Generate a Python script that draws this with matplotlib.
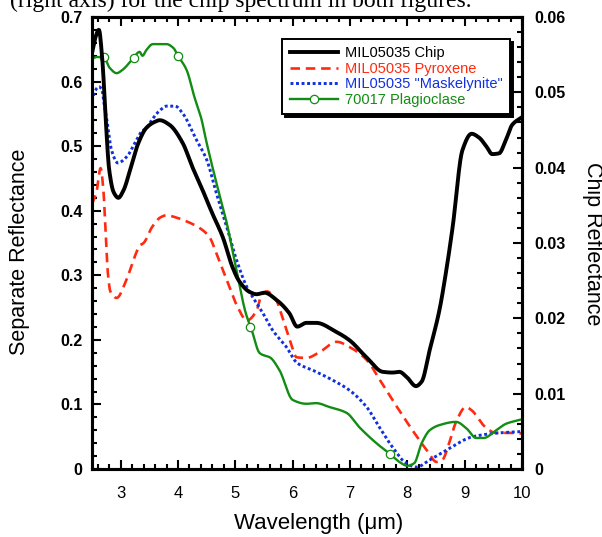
import numpy as np
import matplotlib
matplotlib.use("Agg")
import matplotlib.pyplot as plt
from matplotlib.lines import Line2D
from matplotlib.ticker import MultipleLocator, FixedLocator

plt.rcParams['font.family'] = ['Liberation Sans', 'DejaVu Sans']

# ---------------- data ----------------
chip_wl = [2.50, 2.56, 2.62, 2.68, 2.74, 2.80, 2.88, 2.96, 3.05, 3.18, 3.30, 3.45, 3.60, 3.68,
           3.85, 4.08, 4.25, 4.43, 4.60, 4.78, 4.95, 5.07, 5.25, 5.37, 5.51, 5.71, 5.94, 6.08,
           6.24, 6.41, 6.76, 6.99, 7.29, 7.57, 7.74, 7.86, 7.99, 8.15, 8.25, 8.39, 8.56, 8.68,
           8.79, 8.96, 9.12, 9.25, 9.38, 9.48, 9.60, 9.72, 9.83, 10.0]
chip_refl = [0.0552, 0.0573, 0.0583, 0.0543, 0.0463, 0.0397, 0.0367, 0.0360, 0.0370, 0.0401,
             0.0431, 0.0453, 0.0461, 0.0463, 0.0457, 0.0433, 0.0401, 0.0370, 0.0339, 0.0308,
             0.0268, 0.0249, 0.0235, 0.0232, 0.0234, 0.0225, 0.0207, 0.0189, 0.0194, 0.0194,
             0.0182, 0.0171, 0.0148, 0.0129, 0.0128, 0.0129, 0.0122, 0.0110, 0.0116, 0.0158,
             0.0211, 0.0264, 0.0321, 0.0423, 0.0445, 0.0440, 0.0428, 0.0418, 0.0419, 0.0437,
             0.0457, 0.0467]

pyx_wl = [2.50, 2.58, 2.65, 2.70, 2.74, 2.78, 2.82, 2.93, 3.10, 3.25, 3.33, 3.40, 3.55, 3.70,
          3.80, 3.95, 4.08, 4.38, 4.55, 4.67, 4.85, 5.04, 5.20, 5.37, 5.45, 5.55, 5.71, 5.82,
          5.95, 6.07, 6.24, 6.47, 6.77, 6.99, 7.29, 7.52, 7.82, 8.09, 8.34, 8.51, 8.61, 8.73,
          8.85, 9.02, 9.12, 9.36, 9.54, 9.75, 10.0]
pyx_refl = [0.410, 0.430, 0.466, 0.430, 0.360, 0.300, 0.275, 0.265, 0.293, 0.330, 0.346, 0.350,
            0.375, 0.390, 0.393, 0.390, 0.386, 0.373, 0.359, 0.334, 0.293, 0.251, 0.230, 0.245,
            0.268, 0.275, 0.262, 0.235, 0.200, 0.173, 0.172, 0.181, 0.197, 0.189, 0.169, 0.138,
            0.096, 0.060, 0.029, 0.011, 0.014, 0.040, 0.073, 0.096, 0.091, 0.065, 0.056, 0.056,
            0.055]

mask_wl = [2.50, 2.55, 2.62, 2.67, 2.72, 2.76, 2.84, 2.95, 3.10, 3.28, 3.38, 3.45, 3.51, 3.68,
           3.80, 3.95, 4.08, 4.32, 4.50, 4.67, 4.85, 5.02, 5.20, 5.37, 5.47, 5.65, 5.89, 6.08,
           6.35, 6.69, 6.99, 7.29, 7.51, 7.74, 7.98, 8.16, 8.39, 8.68, 9.14, 9.61, 10.0]
mask_refl = [0.570, 0.585, 0.592, 0.588, 0.560, 0.540, 0.494, 0.474, 0.483, 0.510, 0.524, 0.527,
             0.536, 0.555, 0.562, 0.562, 0.551, 0.510, 0.479, 0.427, 0.375, 0.324, 0.282, 0.257,
             0.243, 0.215, 0.189, 0.164, 0.153, 0.138, 0.122, 0.096, 0.065, 0.034, 0.009, 0.003,
             0.014, 0.029, 0.050, 0.056, 0.058]

plag_wl = [2.50, 2.58, 2.70, 2.81, 2.93, 3.03, 3.21, 3.33, 3.38, 3.45, 3.56, 3.80, 3.92, 4.00,
           4.15, 4.29, 4.40, 4.50, 4.67, 4.85, 5.02, 5.18, 5.29, 5.42, 5.47, 5.60, 5.77, 6.00,
           6.24, 6.41, 6.64, 6.94, 7.16, 7.46, 7.70, 7.86, 8.00, 8.12, 8.25, 8.39, 8.56, 8.85,
           9.03, 9.20, 9.33, 9.55, 9.72, 10.0]
plag_refl = [0.635, 0.638, 0.638, 0.621, 0.613, 0.618, 0.635, 0.646, 0.640, 0.649, 0.658, 0.658,
             0.652, 0.640, 0.618, 0.575, 0.545, 0.505, 0.443, 0.381, 0.308, 0.242, 0.214, 0.180,
             0.177, 0.173, 0.153, 0.107, 0.101, 0.102, 0.096, 0.087, 0.065, 0.040, 0.023, 0.011,
             0.005, 0.009, 0.040, 0.060, 0.068, 0.073, 0.063, 0.048, 0.048, 0.060, 0.070, 0.077]
# open-circle markers every 600 cm-1 (3700, 3100, 2500, 1900, 1300 cm-1)
plag_marker_wavenumber = [3700, 3100, 2500, 1900, 1300]

labels = ['MIL05035 Chip', 'MIL05035 Pyroxene', 'MIL05035 "Maskelynite"', '70017 Plagioclase']
colors = ['#000000', '#ff2a10', '#1030e0', '#128c12']

left_ticks = [0, 0.1, 0.2, 0.3, 0.4, 0.5, 0.6, 0.7]
left_ticklabels = ['0', '0.1', '0.2', '0.3', '0.4', '0.5', '0.6', '0.7']
right_ticks = [0, 0.01, 0.02, 0.03, 0.04, 0.05, 0.06]
right_ticklabels = ['0', '0.01', '0.02', '0.03', '0.04', '0.05', '0.06']
x_ticks = [3, 4, 5, 6, 7, 8, 9, 10]


def pchip(x, y, xs):
    """Shape-preserving piecewise cubic Hermite interpolation (smooth curve through the points)."""
    x = np.asarray(x, float)
    y = np.asarray(y, float)
    xs = np.asarray(xs, float)
    h = np.diff(x)
    d = np.diff(y) / h
    n = len(x)
    m = np.zeros(n)
    m[0], m[-1] = d[0], d[-1]
    for k in range(1, n - 1):
        if d[k - 1] * d[k] > 0:
            w1 = 2 * h[k] + h[k - 1]
            w2 = h[k] + 2 * h[k - 1]
            m[k] = (w1 + w2) / (w1 / d[k - 1] + w2 / d[k])
    idx = np.clip(np.searchsorted(x, xs) - 1, 0, n - 2)
    t = (xs - x[idx]) / h[idx]
    h00 = 2 * t**3 - 3 * t**2 + 1
    h10 = t**3 - 2 * t**2 + t
    h01 = -2 * t**3 + 3 * t**2
    h11 = t**3 - t**2
    return h00 * y[idx] + h10 * h[idx] * m[idx] + h01 * y[idx + 1] + h11 * h[idx] * m[idx + 1]


def smooth(x, y):
    xs = np.linspace(x[0], x[-1], 900)
    return xs, pchip(x, y, xs)


# ---------------- figure ----------------
W, H = 602, 537
fig = plt.figure(figsize=(W / 100, H / 100), dpi=100)
ax = fig.add_axes([92 / W, 1 - 469 / H, (522 - 92) / W, (469 - 17) / H])
ax2 = ax.twinx()

ax.plot(*smooth(pyx_wl, pyx_refl), color=colors[1], lw=1.9, ls=(0, (3.6, 2.2)), zorder=3)
ax.plot(*smooth(mask_wl, mask_refl), color=colors[2], lw=2.1, ls=(0, (1.0, 0.9)), zorder=3)
ax.plot(*smooth(plag_wl, plag_refl), color=colors[3], lw=1.7, zorder=4)
mk_wl = 10000.0 / np.array(plag_marker_wavenumber)
mk_y = pchip(plag_wl, plag_refl, mk_wl)
ax.plot(mk_wl, mk_y, ls='none', marker='o', ms=6, mfc='white', mec=colors[3], mew=0.9, zorder=5)

ax2.plot(*smooth(chip_wl, chip_refl), color=colors[0], lw=2.8, zorder=3, solid_joinstyle='round')

ax.set_xlim(2.5, 10)
ax.set_ylim(0, 0.7)
ax2.set_ylim(0, 0.06)

ax.xaxis.set_major_locator(FixedLocator(x_ticks))
ax.xaxis.set_minor_locator(MultipleLocator(0.2))
ax.set_xticklabels([str(t) for t in x_ticks], fontsize=12)
ax.yaxis.set_major_locator(FixedLocator(left_ticks))
ax.yaxis.set_minor_locator(MultipleLocator(0.02))
ax.set_yticklabels(left_ticklabels, fontsize=11.5, fontweight='bold')
ax2.yaxis.set_major_locator(FixedLocator(right_ticks))
ax2.yaxis.set_minor_locator(MultipleLocator(0.002))
ax2.set_yticklabels(right_ticklabels, fontsize=11.5, fontweight='bold')

ax.tick_params(axis='x', which='both', direction='in', top=True, bottom=True, width=1.5, pad=12)
ax.tick_params(axis='x', which='major', length=6.5)
ax.tick_params(axis='x', which='minor', length=3.5)
ax.tick_params(axis='y', which='both', direction='in', left=True, right=False, width=1.5, pad=7)
ax.tick_params(axis='y', which='major', length=6.5)
ax.tick_params(axis='y', which='minor', length=3.5)
ax2.tick_params(axis='y', which='both', direction='in', right=True, left=False, width=1.5, pad=9)
ax2.tick_params(axis='y', which='major', length=6.5)
ax2.tick_params(axis='y', which='minor', length=3.5)

for a in (ax, ax2):
    for s in a.spines.values():
        s.set_linewidth(2.2)

fig.text(319 / W, 1 - 524 / H, 'Wavelength (μm)', ha='center', va='center', fontsize=16)
fig.text(20 / W, 1 - 252 / H, 'Separate Reflectance', ha='center', va='center',
         rotation=90, fontsize=15.5)
fig.text(592 / W, 1 - 244 / H, 'Chip Reflectance', ha='center', va='center',
         rotation=-90, fontsize=15.5)
fig.text(10 / W, 1 - 7 / H, '(right axis) for the chip spectrum in both figures.',
         ha='left', va='baseline', fontsize=17, family='Liberation Serif')

handles = [
    Line2D([], [], color=colors[0], lw=2.8),
    Line2D([], [], color=colors[1], lw=1.9, ls=(0, (3.6, 2.2))),
    Line2D([], [], color=colors[2], lw=2.1, ls=(0, (1.0, 0.9))),
    Line2D([], [], color=colors[3], lw=1.7, marker='o', ms=6, mfc='white', mec=colors[3], mew=0.9),
]
leg = ax2.legend(handles, labels, loc='upper right',
                 bbox_to_anchor=((510 - 92) / 430, (469 - 39) / 452), borderaxespad=0,
                 fontsize=10.5, handlelength=3.3, handletextpad=0.5, labelspacing=0.1,
                 borderpad=0.5, fancybox=False, frameon=True, numpoints=1,
                 shadow={'color': 'black', 'alpha': 1.0}, labelcolor=colors)
leg.get_frame().set_edgecolor('black')
leg.get_frame().set_linewidth(1.4)
leg.set_zorder(10)

fig.savefig('out.png', dpi=100)
